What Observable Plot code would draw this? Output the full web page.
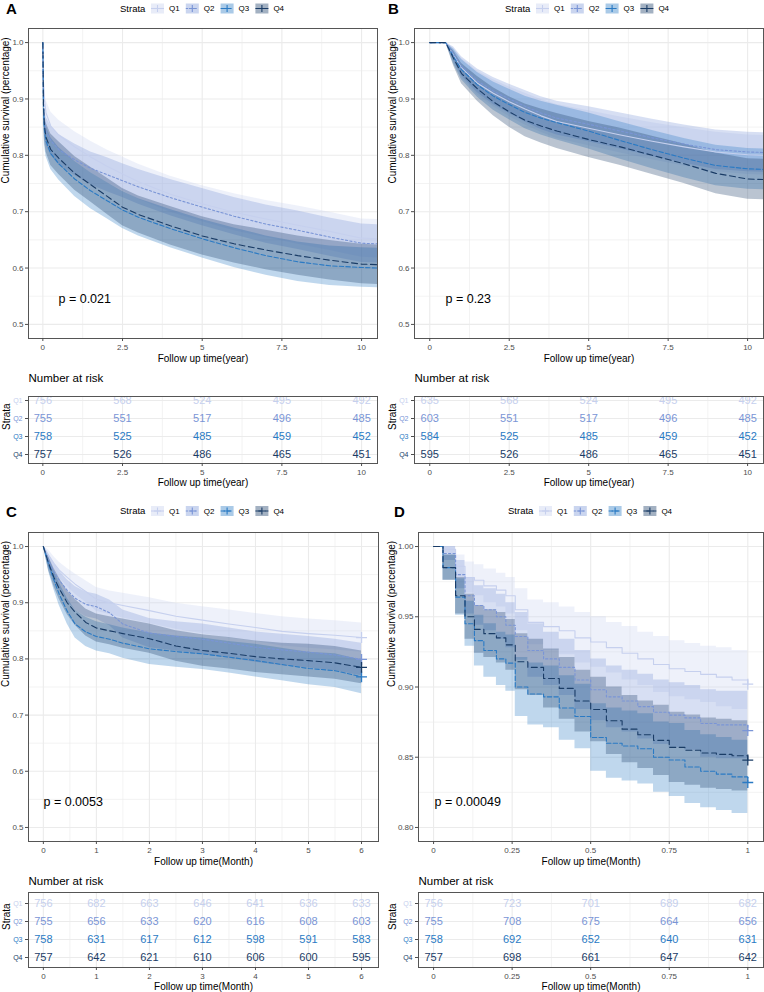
<!DOCTYPE html>
<html><head><meta charset="utf-8">
<script src="https://cdn.jsdelivr.net/npm/d3@7"></script>
<script src="https://cdn.jsdelivr.net/npm/@observablehq/plot@0.6"></script>
<style>
body{margin:0;background:#fff;font-family:"Liberation Sans",Arial,sans-serif;}
#root{position:relative;width:764px;height:992px;overflow:hidden;background:#fff;}
</style></head><body><div id="root"></div>
<script>
const strata = ["Q1","Q2","Q3","Q4"];
const stratumColors = ["#c6d0ee","#7a95d6","#2a7ac4","#1a3c66"];
const dashPatterns = ["none","2.2,2.2","4.4,2.2","6,3.5"];

// ---------- Panel A (years) ----------
const aTime = [0, 0.02, 0.05, 0.1, 0.25, 0.5, 1, 1.5, 2, 2.5, 3, 4, 5, 6, 7, 8, 9, 10, 10.5];
const aSurvQ1 = [1, 0.93, 0.9, 0.875, 0.852, 0.836, 0.815, 0.797, 0.781, 0.767, 0.753, 0.731, 0.714, 0.699, 0.687, 0.676, 0.665, 0.653, 0.652];
const aUpQ1 = [1, 0.948, 0.921, 0.898, 0.877, 0.862, 0.842, 0.825, 0.81, 0.797, 0.784, 0.763, 0.746, 0.732, 0.72, 0.71, 0.699, 0.687, 0.686];
const aLoQ1 = [1, 0.912, 0.879, 0.852, 0.827, 0.81, 0.788, 0.769, 0.752, 0.737, 0.722, 0.699, 0.682, 0.666, 0.654, 0.642, 0.631, 0.619, 0.618];
const aSurvQ2 = [1, 0.9, 0.862, 0.843, 0.826, 0.81, 0.792, 0.777, 0.766, 0.755, 0.744, 0.725, 0.708, 0.692, 0.678, 0.667, 0.655, 0.644, 0.643];
const aUpQ2 = [1, 0.921, 0.886, 0.868, 0.852, 0.837, 0.82, 0.806, 0.796, 0.785, 0.775, 0.757, 0.741, 0.725, 0.712, 0.701, 0.689, 0.678, 0.677];
const aLoQ2 = [1, 0.879, 0.838, 0.818, 0.8, 0.783, 0.764, 0.748, 0.736, 0.725, 0.713, 0.693, 0.675, 0.659, 0.644, 0.633, 0.621, 0.61, 0.609];
const aSurvQ3 = [1, 0.885, 0.845, 0.825, 0.803, 0.785, 0.758, 0.737, 0.72, 0.703, 0.69, 0.67, 0.652, 0.636, 0.622, 0.611, 0.604, 0.601, 0.6];
const aUpQ3 = [1, 0.908, 0.871, 0.852, 0.831, 0.814, 0.789, 0.769, 0.752, 0.736, 0.723, 0.704, 0.686, 0.671, 0.657, 0.646, 0.639, 0.636, 0.635];
const aLoQ3 = [1, 0.862, 0.819, 0.798, 0.775, 0.756, 0.727, 0.705, 0.688, 0.67, 0.657, 0.636, 0.618, 0.601, 0.587, 0.576, 0.569, 0.566, 0.565];
const aSurvQ4 = [1, 0.89, 0.852, 0.832, 0.81, 0.795, 0.768, 0.748, 0.728, 0.708, 0.695, 0.675, 0.657, 0.643, 0.632, 0.622, 0.614, 0.607, 0.606];
const aUpQ4 = [1, 0.912, 0.877, 0.858, 0.838, 0.824, 0.798, 0.779, 0.76, 0.741, 0.728, 0.709, 0.691, 0.677, 0.667, 0.657, 0.649, 0.642, 0.641];
const aLoQ4 = [1, 0.868, 0.827, 0.806, 0.782, 0.766, 0.738, 0.717, 0.696, 0.675, 0.662, 0.641, 0.623, 0.609, 0.597, 0.587, 0.579, 0.572, 0.571];
const aRiskTimes = [0, 2.5, 5, 7.5, 10];
const aRiskQ1 = [756, 568, 524, 495, 492];
const aRiskQ2 = [755, 551, 517, 496, 485];
const aRiskQ3 = [758, 525, 485, 459, 452];
const aRiskQ4 = [757, 526, 486, 465, 451];

// ---------- Panel B (years) ----------
const bTime = [0, 0.5, 0.75, 1, 1.5, 2, 2.5, 3, 3.5, 4, 5, 6, 7, 8, 9, 10, 10.5];
const bSurvQ1 = [1, 1, 0.978, 0.955, 0.928, 0.91, 0.895, 0.882, 0.87, 0.86, 0.848, 0.836, 0.825, 0.815, 0.806, 0.801, 0.8];
const bUpQ1 = [1, 1, 0.99, 0.972, 0.949, 0.934, 0.921, 0.91, 0.899, 0.89, 0.879, 0.868, 0.858, 0.849, 0.841, 0.836, 0.835];
const bLoQ1 = [1, 1, 0.966, 0.938, 0.907, 0.886, 0.869, 0.854, 0.841, 0.83, 0.817, 0.804, 0.792, 0.781, 0.771, 0.766, 0.765];
const bSurvQ2 = [1, 1, 0.98, 0.958, 0.932, 0.914, 0.9, 0.887, 0.875, 0.866, 0.855, 0.843, 0.831, 0.82, 0.81, 0.806, 0.805];
const bUpQ2 = [1, 1, 0.992, 0.975, 0.953, 0.938, 0.926, 0.915, 0.904, 0.896, 0.886, 0.875, 0.864, 0.854, 0.845, 0.841, 0.84];
const bLoQ2 = [1, 1, 0.968, 0.941, 0.911, 0.89, 0.874, 0.859, 0.846, 0.836, 0.824, 0.811, 0.798, 0.786, 0.775, 0.771, 0.77];
const bSurvQ3 = [1, 1, 0.975, 0.952, 0.925, 0.905, 0.89, 0.876, 0.866, 0.858, 0.843, 0.826, 0.81, 0.795, 0.782, 0.776, 0.775];
const bUpQ3 = [1, 1, 0.988, 0.97, 0.947, 0.93, 0.917, 0.905, 0.896, 0.889, 0.875, 0.859, 0.844, 0.83, 0.818, 0.812, 0.811];
const bLoQ3 = [1, 1, 0.962, 0.934, 0.903, 0.88, 0.863, 0.847, 0.836, 0.827, 0.811, 0.793, 0.776, 0.76, 0.746, 0.74, 0.739];
const bSurvQ4 = [1, 1, 0.972, 0.945, 0.918, 0.895, 0.877, 0.862, 0.852, 0.843, 0.828, 0.815, 0.8, 0.785, 0.768, 0.758, 0.757];
const bUpQ4 = [1, 1, 0.985, 0.963, 0.94, 0.92, 0.904, 0.891, 0.882, 0.874, 0.86, 0.848, 0.834, 0.82, 0.804, 0.794, 0.793];
const bLoQ4 = [1, 1, 0.959, 0.927, 0.896, 0.87, 0.85, 0.833, 0.822, 0.812, 0.796, 0.782, 0.766, 0.75, 0.732, 0.722, 0.721];
const bRiskTimes = [0, 2.5, 5, 7.5, 10];
const bRiskQ1 = [635, 568, 524, 495, 492];
const bRiskQ2 = [603, 551, 517, 496, 485];
const bRiskQ3 = [584, 525, 485, 459, 452];
const bRiskQ4 = [595, 526, 486, 465, 451];

// ---------- Panel C (months) ----------
const cTime = [0, 0.1, 0.2, 0.3, 0.45, 0.6, 0.8, 1, 1.25, 1.5, 2, 2.5, 3, 3.5, 4, 4.5, 5, 5.5, 6];
const cSurvQ1 = [1, 0.985, 0.97, 0.958, 0.945, 0.933, 0.92, 0.906, 0.9, 0.895, 0.886, 0.876, 0.869, 0.862, 0.856, 0.849, 0.845, 0.842, 0.838];
const cUpQ1 = [1, 0.994, 0.982, 0.972, 0.961, 0.951, 0.939, 0.927, 0.921, 0.917, 0.909, 0.899, 0.893, 0.887, 0.881, 0.875, 0.871, 0.868, 0.864];
const cLoQ1 = [1, 0.976, 0.958, 0.944, 0.929, 0.915, 0.901, 0.885, 0.879, 0.873, 0.863, 0.853, 0.845, 0.837, 0.831, 0.823, 0.819, 0.816, 0.812];
const cSurvQ2 = [1, 0.975, 0.955, 0.94, 0.922, 0.908, 0.897, 0.893, 0.882, 0.862, 0.846, 0.84, 0.835, 0.828, 0.821, 0.816, 0.812, 0.807, 0.799];
const cUpQ2 = [1, 0.986, 0.97, 0.957, 0.941, 0.929, 0.919, 0.915, 0.905, 0.887, 0.872, 0.866, 0.862, 0.855, 0.848, 0.844, 0.84, 0.835, 0.828];
const cLoQ2 = [1, 0.964, 0.94, 0.923, 0.903, 0.887, 0.875, 0.871, 0.859, 0.837, 0.82, 0.814, 0.808, 0.801, 0.794, 0.788, 0.784, 0.779, 0.77];
const cSurvQ3 = [1, 0.968, 0.94, 0.915, 0.885, 0.862, 0.848, 0.84, 0.835, 0.828, 0.818, 0.813, 0.809, 0.803, 0.797, 0.79, 0.783, 0.779, 0.768];
const cUpQ3 = [1, 0.981, 0.957, 0.935, 0.908, 0.887, 0.874, 0.866, 0.861, 0.855, 0.846, 0.841, 0.837, 0.831, 0.826, 0.819, 0.812, 0.809, 0.798];
const cLoQ3 = [1, 0.955, 0.923, 0.895, 0.862, 0.837, 0.822, 0.814, 0.809, 0.801, 0.79, 0.785, 0.781, 0.775, 0.768, 0.761, 0.754, 0.749, 0.738];
const cSurvQ4 = [1, 0.97, 0.945, 0.925, 0.9, 0.883, 0.865, 0.855, 0.85, 0.845, 0.836, 0.823, 0.815, 0.81, 0.804, 0.8, 0.797, 0.793, 0.785];
const cUpQ4 = [1, 0.982, 0.961, 0.944, 0.921, 0.906, 0.889, 0.88, 0.875, 0.871, 0.862, 0.85, 0.843, 0.838, 0.832, 0.828, 0.826, 0.822, 0.814];
const cLoQ4 = [1, 0.958, 0.929, 0.906, 0.879, 0.86, 0.841, 0.83, 0.825, 0.819, 0.81, 0.796, 0.787, 0.782, 0.776, 0.772, 0.768, 0.764, 0.756];
const cRiskTimes = [0, 1, 2, 3, 4, 5, 6];
const cRiskQ1 = [756, 682, 663, 646, 641, 636, 633];
const cRiskQ2 = [755, 656, 633, 620, 616, 608, 603];
const cRiskQ3 = [758, 631, 617, 612, 598, 591, 583];
const cRiskQ4 = [757, 642, 621, 610, 606, 600, 595];

// ---------- Panel D (months) ----------
const dTime = [0, 0.03, 0.07, 0.1, 0.13, 0.16, 0.2, 0.23, 0.26, 0.3, 0.35, 0.4, 0.45, 0.5, 0.55, 0.6, 0.65, 0.7, 0.75, 0.8, 0.85, 0.9, 0.95, 1];
const dSurvQ1 = [1, 0.998, 0.986, 0.978, 0.976, 0.972, 0.969, 0.965, 0.955, 0.946, 0.943, 0.94, 0.935, 0.932, 0.928, 0.924, 0.92, 0.916, 0.913, 0.911, 0.909, 0.907, 0.905, 0.902];
const dUpQ1 = [1, 1, 0.994, 0.989, 0.987, 0.984, 0.981, 0.978, 0.97, 0.962, 0.96, 0.957, 0.953, 0.95, 0.946, 0.943, 0.939, 0.936, 0.933, 0.931, 0.929, 0.928, 0.926, 0.923];
const dLoQ1 = [1, 0.995, 0.978, 0.967, 0.965, 0.96, 0.957, 0.952, 0.94, 0.93, 0.926, 0.923, 0.917, 0.914, 0.91, 0.905, 0.901, 0.896, 0.893, 0.891, 0.889, 0.886, 0.884, 0.881];
const dSurvQ2 = [1, 0.995, 0.98, 0.965, 0.958, 0.955, 0.95, 0.944, 0.936, 0.926, 0.92, 0.914, 0.905, 0.898, 0.893, 0.89, 0.886, 0.882, 0.88, 0.878, 0.874, 0.873, 0.873, 0.869];
const dUpQ2 = [1, 1, 0.99, 0.978, 0.972, 0.97, 0.966, 0.96, 0.953, 0.945, 0.939, 0.934, 0.926, 0.92, 0.915, 0.912, 0.909, 0.905, 0.903, 0.901, 0.898, 0.897, 0.897, 0.893];
const dLoQ2 = [1, 0.99, 0.97, 0.952, 0.944, 0.94, 0.934, 0.928, 0.919, 0.907, 0.901, 0.894, 0.884, 0.876, 0.871, 0.868, 0.863, 0.859, 0.857, 0.855, 0.85, 0.849, 0.849, 0.845];
const dSurvQ3 = [1, 0.985, 0.964, 0.945, 0.933, 0.926, 0.92, 0.917, 0.9, 0.895, 0.893, 0.885, 0.879, 0.864, 0.86, 0.858, 0.856, 0.85, 0.848, 0.843, 0.84, 0.838, 0.836, 0.832];
const dUpQ3 = [1, 0.994, 0.977, 0.961, 0.951, 0.945, 0.939, 0.937, 0.921, 0.917, 0.915, 0.908, 0.902, 0.888, 0.885, 0.883, 0.881, 0.875, 0.874, 0.869, 0.866, 0.864, 0.862, 0.859];
const dLoQ3 = [1, 0.976, 0.951, 0.929, 0.915, 0.907, 0.901, 0.897, 0.879, 0.873, 0.871, 0.862, 0.856, 0.84, 0.835, 0.833, 0.831, 0.825, 0.822, 0.817, 0.814, 0.812, 0.81, 0.805];
const dSurvQ4 = [1, 0.985, 0.965, 0.95, 0.941, 0.938, 0.935, 0.93, 0.918, 0.914, 0.906, 0.899, 0.89, 0.884, 0.876, 0.87, 0.866, 0.862, 0.857, 0.855, 0.853, 0.852, 0.851, 0.848];
const dUpQ4 = [1, 0.994, 0.978, 0.966, 0.958, 0.955, 0.953, 0.948, 0.938, 0.934, 0.927, 0.921, 0.912, 0.907, 0.9, 0.894, 0.89, 0.887, 0.882, 0.88, 0.878, 0.877, 0.876, 0.874];
const dLoQ4 = [1, 0.976, 0.952, 0.934, 0.924, 0.921, 0.917, 0.912, 0.898, 0.894, 0.885, 0.877, 0.868, 0.861, 0.852, 0.846, 0.842, 0.837, 0.832, 0.83, 0.828, 0.827, 0.826, 0.822];
const dRiskTimes = [0, 0.25, 0.5, 0.75, 1];
const dRiskQ1 = [756, 723, 701, 689, 682];
const dRiskQ2 = [755, 708, 675, 664, 656];
const dRiskQ3 = [758, 692, 652, 640, 631];
const dRiskQ4 = [757, 698, 661, 647, 642];

const pValues = ["p = 0.021", "p = 0.23", "p = 0.0053", "p = 0.00049"];
const yearTicks = [0, 2.5, 5, 7.5, 10], yearMinor = [1.25, 3.75, 6.25, 8.75];
const monthTicks = [0, 1, 2, 3, 4, 5, 6], monthMinor = [0.5, 1.5, 2.5, 3.5, 4.5, 5.5];
const month1Ticks = [0, 0.25, 0.5, 0.75, 1], month1Minor = [0.125, 0.375, 0.625, 0.875];
const survTicks = [0.5, 0.6, 0.7, 0.8, 0.9, 1.0], survMinor = [0.55, 0.65, 0.75, 0.85, 0.95];
const survTicksD = [0.80, 0.85, 0.90, 0.95, 1.00], survMinorD = [0.825, 0.875, 0.925, 0.975];

const FONT = '"Liberation Sans", Arial, Helvetica, sans-serif';
const GRID = "#ebebeb";
const BAND_OPACITY = 0.3;
const root = document.getElementById("root");

function place(el, left, top) {
  el.style.position = "absolute";
  el.style.left = left + "px";
  el.style.top = top + "px";
  root.appendChild(el);
}
const numFmt = d => String(d);

function kmChart(c) {
  const marks = [
    Plot.ruleX(c.xMinor, {stroke: GRID, strokeWidth: 0.6}),
    Plot.ruleY(c.yMinor, {stroke: GRID, strokeWidth: 0.6}),
    Plot.ruleX(c.xTicks, {stroke: GRID, strokeWidth: 1.1}),
    Plot.ruleY(c.yTicks, {stroke: GRID, strokeWidth: 1.1})
  ];
  strata.forEach((s, i) => {
    const rows = c.time.map((t, j) => ({t, lo: c.lower[i][j], hi: c.upper[i][j]}));
    marks.push(Plot.areaY(rows, {x: "t", y1: "lo", y2: "hi", fill: stratumColors[i], fillOpacity: BAND_OPACITY, curve: c.curve}));
  });
  strata.forEach((s, i) => {
    const rows = c.time.map((t, j) => ({t, s: c.surv[i][j]}));
    marks.push(Plot.line(rows, {x: "t", y: "s", stroke: stratumColors[i], strokeWidth: 1.1, strokeDasharray: dashPatterns[i], curve: c.curve}));
    if (c.censor) {
      const last = rows.length - 1;
      marks.push(Plot.dot([rows[last]], {x: "t", y: "s", symbol: "plus", r: 3.6, stroke: stratumColors[i], strokeWidth: 1.3}));
    }
  });
  marks.push(
    Plot.frame({stroke: "#555", strokeWidth: 1}),
    Plot.axisX({ticks: c.xTicks, tickFormat: numFmt, tickSize: 3, tickPadding: 3, fontSize: 8, label: null}),
    Plot.axisY({ticks: c.yTicks, tickFormat: c.yFormat, tickSize: 3, tickPadding: 2, fontSize: 8, label: null}),
    Plot.text([c.pval], {frameAnchor: "bottom-left", lineAnchor: "middle", dx: c.pdx, dy: -40, text: d => d, textAnchor: "start", fontSize: 12.5, fill: "#000"}),
    Plot.text([c.xlabel], {frameAnchor: "bottom", lineAnchor: "middle", dy: 20, text: d => d, fontSize: 10, fill: "#000"}),
    Plot.text(["Cumulative survival (percentage)"], {frameAnchor: "left", lineAnchor: "middle", dx: c.ytdx, rotate: -90, text: d => d, fontSize: 10, fill: "#000"})
  );
  return Plot.plot({
    width: c.width, height: c.height,
    marginTop: c.m[0], marginRight: c.m[1], marginBottom: c.m[2], marginLeft: c.m[3],
    x: {domain: c.xDomain, label: null},
    y: {domain: c.yDomain, label: null},
    style: {fontFamily: FONT, fontSize: "8px", color: "#4d4d4d", background: "transparent", overflow: "visible"},
    marks
  });
}

function riskChart(c) {
  const marks = [
    Plot.ruleX(c.xMinor, {stroke: GRID, strokeWidth: 0.6}),
    Plot.ruleX(c.xTicks, {stroke: GRID, strokeWidth: 1.1}),
    Plot.ruleY(strata, {y: d => d, stroke: GRID, strokeWidth: 1.1})
  ];
  strata.forEach((s, i) => {
    const rows = c.times.map((t, j) => ({t, n: c.counts[i][j]}));
    marks.push(Plot.text(rows, {x: "t", y: () => s, text: d => String(d.n), fill: stratumColors[i], fontSize: 11}));
    marks.push(Plot.text([s], {frameAnchor: "left", lineAnchor: "middle", y: d => d, dx: -6, textAnchor: "end", text: d => d, fill: stratumColors[i], fontSize: 7}));
  });
  marks.push(
    Plot.frame({stroke: "#555", strokeWidth: 1}),
    Plot.axisX({ticks: c.xTicks, tickFormat: numFmt, tickSize: 3, tickPadding: 2.5, fontSize: 8, label: null}),
    Plot.axisY({ticks: strata, tickFormat: () => "", tickSize: 3, label: null}),
    Plot.text(["Number at risk"], {frameAnchor: "top-left", lineAnchor: "middle", dy: c.titleDy, text: d => d, textAnchor: "start", fontSize: 11.5, fill: "#000"}),
    Plot.text([c.xlabel], {frameAnchor: "bottom", lineAnchor: "middle", dy: 19.5, text: d => d, fontSize: 10, fill: "#000"}),
    Plot.text(["Strata"], {frameAnchor: "left", lineAnchor: "middle", dx: c.stdx, rotate: -90, text: d => d, fontSize: 10, fill: "#000"})
  );
  return Plot.plot({
    width: c.width, height: c.height,
    marginTop: c.m[0], marginRight: c.m[1], marginBottom: c.m[2], marginLeft: c.m[3],
    x: {domain: c.xDomain, label: null},
    y: {type: "point", domain: strata, range: c.rowRange, padding: 0, label: null},
    style: {fontFamily: FONT, fontSize: "8px", color: "#4d4d4d", background: "transparent", overflow: "visible"},
    marks
  });
}

const fmt1 = d3.format(".1f"), fmt2 = d3.format(".2f");

// Panel A
place(kmChart({
  time: aTime, surv: [aSurvQ1, aSurvQ2, aSurvQ3, aSurvQ4], lower: [aLoQ1, aLoQ2, aLoQ3, aLoQ4], upper: [aUpQ1, aUpQ2, aUpQ3, aUpQ4],
  width: 382, height: 370, m: [28, 5, 32, 28], xDomain: [-0.45, 10.5], yDomain: [0.475, 1.025],
  xTicks: yearTicks, xMinor: yearMinor, yTicks: survTicks, yMinor: survMinor, yFormat: fmt1,
  curve: "linear", pval: pValues[0], pdx: 30, xlabel: "Follow up time(year)", ytdx: -23, censor: false
}), 0, 0);
place(riskChart({
  times: aRiskTimes, counts: [aRiskQ1, aRiskQ2, aRiskQ3, aRiskQ4],
  width: 382, height: 120, m: [26, 5, 27, 28], xDomain: [-0.45, 10.5], xTicks: yearTicks, xMinor: yearMinor,
  rowRange: [29.3, 85], titleDy: -18.5, xlabel: "Follow up time(year)", stdx: -22
}), 0, 370);

// Panel B
place(kmChart({
  time: bTime, surv: [bSurvQ1, bSurvQ2, bSurvQ3, bSurvQ4], lower: [bLoQ1, bLoQ2, bLoQ3, bLoQ4], upper: [bUpQ1, bUpQ2, bUpQ3, bUpQ4],
  width: 382, height: 370, m: [28, 1, 32, 32], xDomain: [-0.48, 10.5], yDomain: [0.475, 1.025],
  xTicks: yearTicks, xMinor: yearMinor, yTicks: survTicks, yMinor: survMinor, yFormat: fmt1,
  curve: "linear", pval: pValues[1], pdx: 31, xlabel: "Follow up time(year)", ytdx: -22, censor: false
}), 382, 0);
place(riskChart({
  times: bRiskTimes, counts: [bRiskQ1, bRiskQ2, bRiskQ3, bRiskQ4],
  width: 382, height: 120, m: [26, 1, 27, 32], xDomain: [-0.48, 10.5], xTicks: yearTicks, xMinor: yearMinor,
  rowRange: [29.3, 85], titleDy: -18.5, xlabel: "Follow up time(year)", stdx: -22
}), 382, 370);

// Panel C
place(kmChart({
  time: cTime, surv: [cSurvQ1, cSurvQ2, cSurvQ3, cSurvQ4], lower: [cLoQ1, cLoQ2, cLoQ3, cLoQ4], upper: [cUpQ1, cUpQ2, cUpQ3, cUpQ4],
  width: 382, height: 370, m: [32, 4, 29, 28], xDomain: [-0.28, 6.32], yDomain: [0.475, 1.025],
  xTicks: monthTicks, xMinor: monthMinor, yTicks: survTicks, yMinor: survMinor, yFormat: fmt1,
  curve: "linear", pval: pValues[2], pdx: 15, xlabel: "Follow up time(Month)", ytdx: -23, censor: true
}), 0, 500);
place(riskChart({
  times: cRiskTimes, counts: [cRiskQ1, cRiskQ2, cRiskQ3, cRiskQ4],
  width: 382, height: 122, m: [22, 4, 25, 28], xDomain: [-0.28, 6.32], xTicks: monthTicks, xMinor: monthMinor,
  rowRange: [32.7, 87.3], titleDy: -11, xlabel: "Follow up time(Month)", stdx: -22
}), 0, 870);

// Panel D
place(kmChart({
  time: dTime, surv: [dSurvQ1, dSurvQ2, dSurvQ3, dSurvQ4], lower: [dLoQ1, dLoQ2, dLoQ3, dLoQ4], upper: [dUpQ1, dUpQ2, dUpQ3, dUpQ4],
  width: 382, height: 370, m: [32, 1, 29, 36], xDomain: [-0.048, 1.05], yDomain: [0.79, 1.01],
  xTicks: month1Ticks, xMinor: month1Minor, yTicks: survTicksD, yMinor: survMinorD, yFormat: fmt2,
  curve: "step-after", pval: pValues[3], pdx: 16, xlabel: "Follow up time(Month)", ytdx: -27, censor: true
}), 382, 500);
place(riskChart({
  times: dRiskTimes, counts: [dRiskQ1, dRiskQ2, dRiskQ3, dRiskQ4],
  width: 382, height: 122, m: [22, 1, 25, 36], xDomain: [-0.048, 1.05], xTicks: month1Ticks, xMinor: month1Minor,
  rowRange: [32.7, 87.3], titleDy: -11, xlabel: "Follow up time(Month)", stdx: -26
}), 382, 870);

// Overlay: panel letters and legends
const overlay = d3.create("svg").attr("width", 764).attr("height", 992)
  .style("position", "absolute").style("left", "0px").style("top", "0px").style("pointer-events", "none")
  .attr("font-family", FONT);
[["A", 6, 14], ["B", 388, 14], ["C", 6, 517], ["D", 394, 517]].forEach(([l, x, y]) => {
  overlay.append("text").attr("x", x).attr("y", y).attr("font-size", 15).attr("font-weight", "bold").attr("fill", "#000").text(l);
});
function legend(x, yc) {
  const g = overlay.append("g").attr("transform", `translate(${x},${yc})`);
  g.append("text").attr("x", 0).attr("y", 0).attr("dy", "0.35em").attr("font-size", 9.5).attr("fill", "#000").text("Strata");
  strata.forEach((s, i) => {
    const bx = 31 + i * 34.8;
    g.append("rect").attr("x", bx).attr("y", -5).attr("width", 13).attr("height", 10).attr("fill", stratumColors[i]).attr("fill-opacity", 0.4);
    g.append("line").attr("x1", bx).attr("x2", bx + 13).attr("y1", 0).attr("y2", 0)
      .attr("stroke", stratumColors[i]).attr("stroke-width", 1.1).attr("stroke-dasharray", dashPatterns[i]);
    g.append("path").attr("d", `M${bx + 3},0h7M${bx + 6.5},-3.5v7`).attr("stroke", stratumColors[i]).attr("stroke-width", 1.1);
    g.append("text").attr("x", bx + 18).attr("y", 0).attr("dy", "0.35em").attr("font-size", 8).attr("fill", "#000").text(s);
  });
}
legend(120, 8.5);
legend(505, 8.5);
legend(120, 511);
legend(508, 511);
root.appendChild(overlay.node());
</script>
</body></html>
